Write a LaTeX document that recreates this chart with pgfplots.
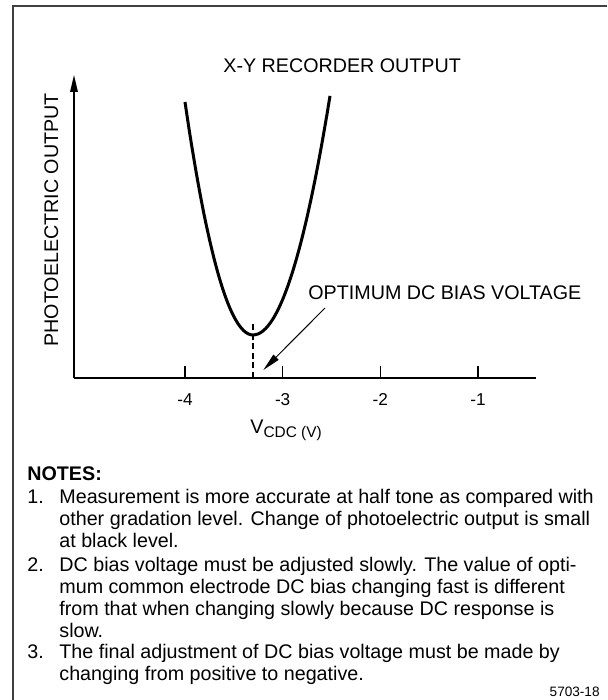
\documentclass[border=0pt]{standalone}
\usepackage{pgfplots}
\pgfplotsset{compat=1.18}
\usepackage{fontspec}
\setmainfont{Liberation Sans}
\usetikzlibrary{arrows.meta}
\newcommand{\mainsize}{\fontsize{9.85}{11.5}\selectfont}

\begin{document}
\begin{tikzpicture}
\useasboundingbox (0,0) rectangle (303.5pt,-350pt);
\draw[line width=0.8pt, black!75] (303.5pt,-3pt) -- (6.5pt,-3pt) -- (6.5pt,-350pt);

\begin{axis}[
  at={(37pt,-189pt)}, anchor=south west,
  scale only axis, width=231pt, height=151.5pt,
  xmin=-5.1365, xmax=-0.406, ymin=0, ymax=10,
  axis lines=left,
  axis line style={line width=0.65pt, black},
  x axis line style={-},
  y axis line style={-{Triangle[length=8.5pt,width=3.8pt]}},
  ytick=\empty,
  xtick={-4,-3,-2,-1}, xticklabels={-4,-3,-2,-1},
  tick align=inside, major tick length=5.5pt,
  tick style={line width=0.65pt, black},
  xticklabel style={font=\fontsize{8.6}{10}\selectfont, text height=6.2pt, text depth=0pt, yshift=-4pt},
  clip=false,
]
\addplot[line width=1.5pt, smooth, black] coordinates {
(-4.00,9.11) (-3.95,8.04) (-3.90,7.06) (-3.85,6.15) (-3.80,5.32)
(-3.75,4.58) (-3.70,3.91) (-3.65,3.32) (-3.60,2.81) (-3.55,2.38)
(-3.50,2.03) (-3.45,1.76) (-3.40,1.565) (-3.35,1.453) (-3.304,1.419)
(-3.25,1.456) (-3.20,1.556) (-3.15,1.720) (-3.10,1.947) (-3.05,2.238)
(-3.00,2.592) (-2.95,3.009) (-2.90,3.490) (-2.85,4.035) (-2.80,4.642)
(-2.75,5.314) (-2.70,6.048) (-2.65,6.847) (-2.60,7.708) (-2.55,8.633)
(-2.5154,9.31)
};
\addplot[line width=0.65pt, black, dash pattern=on 3pt off 1.8pt] coordinates {(-3.304,0) (-3.304,1.85)};
\draw[line width=0.5pt, -{Triangle[length=9pt,width=3.6pt]}] (axis cs:-2.567,2.31) -- (axis cs:-3.198,0.264);
\pgfplotsinvokeforeach{-4,-3,-2,-1}{
  \draw[line width=0.65pt, black] (axis cs:#1,0) -- (axis cs:#1,0.38);
}
\end{axis}

\node[anchor=base west, inner sep=0, font=\mainsize] at (111.5pt,-36.25pt) {X-Y RECORDER OUTPUT};
\node[anchor=base west, inner sep=0, rotate=90, font=\mainsize] at (29pt,-173.5pt) {PHOTOELECTRIC OUTPUT};
\node[anchor=base west, inner sep=0, font=\mainsize] at (154pt,-149.5pt) {OPTIMUM DC BIAS VOLTAGE};
\node[anchor=base west, inner sep=0, font=\mainsize] at (125pt,-216.65pt) {V\raisebox{-2pt}{\fontsize{7.7}{9}\selectfont CDC (V)}};

\node[anchor=base west, inner sep=0, font=\mainsize\bfseries] at (13.5pt,-240pt) {NOTES:};
\node[anchor=base west, inner sep=0, font=\mainsize] at (13.5pt,-251.5pt) {1.};
\node[anchor=base west, inner sep=0, font=\mainsize] at (29.5pt,-251.5pt) {Measurement is more accurate at half tone as compared with};
\node[anchor=base west, inner sep=0, font=\mainsize] at (29.5pt,-262.5pt) {other gradation level. Change of photoelectric output is small};
\node[anchor=base west, inner sep=0, font=\mainsize] at (29.5pt,-273.5pt) {at black level.};
\node[anchor=base west, inner sep=0, font=\mainsize] at (13.5pt,-285.5pt) {2.};
\node[anchor=base west, inner sep=0, font=\mainsize] at (29.5pt,-285.5pt) {DC bias voltage must be adjusted slowly. The value of opti-};
\node[anchor=base west, inner sep=0, font=\mainsize] at (29.5pt,-296.5pt) {mum common electrode DC bias changing fast is different};
\node[anchor=base west, inner sep=0, font=\mainsize] at (29.5pt,-307.5pt) {from that when changing slowly because DC response is};
\node[anchor=base west, inner sep=0, font=\mainsize] at (29.5pt,-318.5pt) {slow.};
\node[anchor=base west, inner sep=0, font=\mainsize] at (13.5pt,-329pt) {3.};
\node[anchor=base west, inner sep=0, font=\mainsize] at (29.5pt,-329pt) {The final adjustment of DC bias voltage must be made by};
\node[anchor=base west, inner sep=0, font=\mainsize] at (29.5pt,-340pt) {changing from positive to negative.};
\node[anchor=base east, inner sep=0, font=\fontsize{6.8}{8}\selectfont] at (300pt,-348pt) {5703-18};
\end{tikzpicture}
\end{document}
